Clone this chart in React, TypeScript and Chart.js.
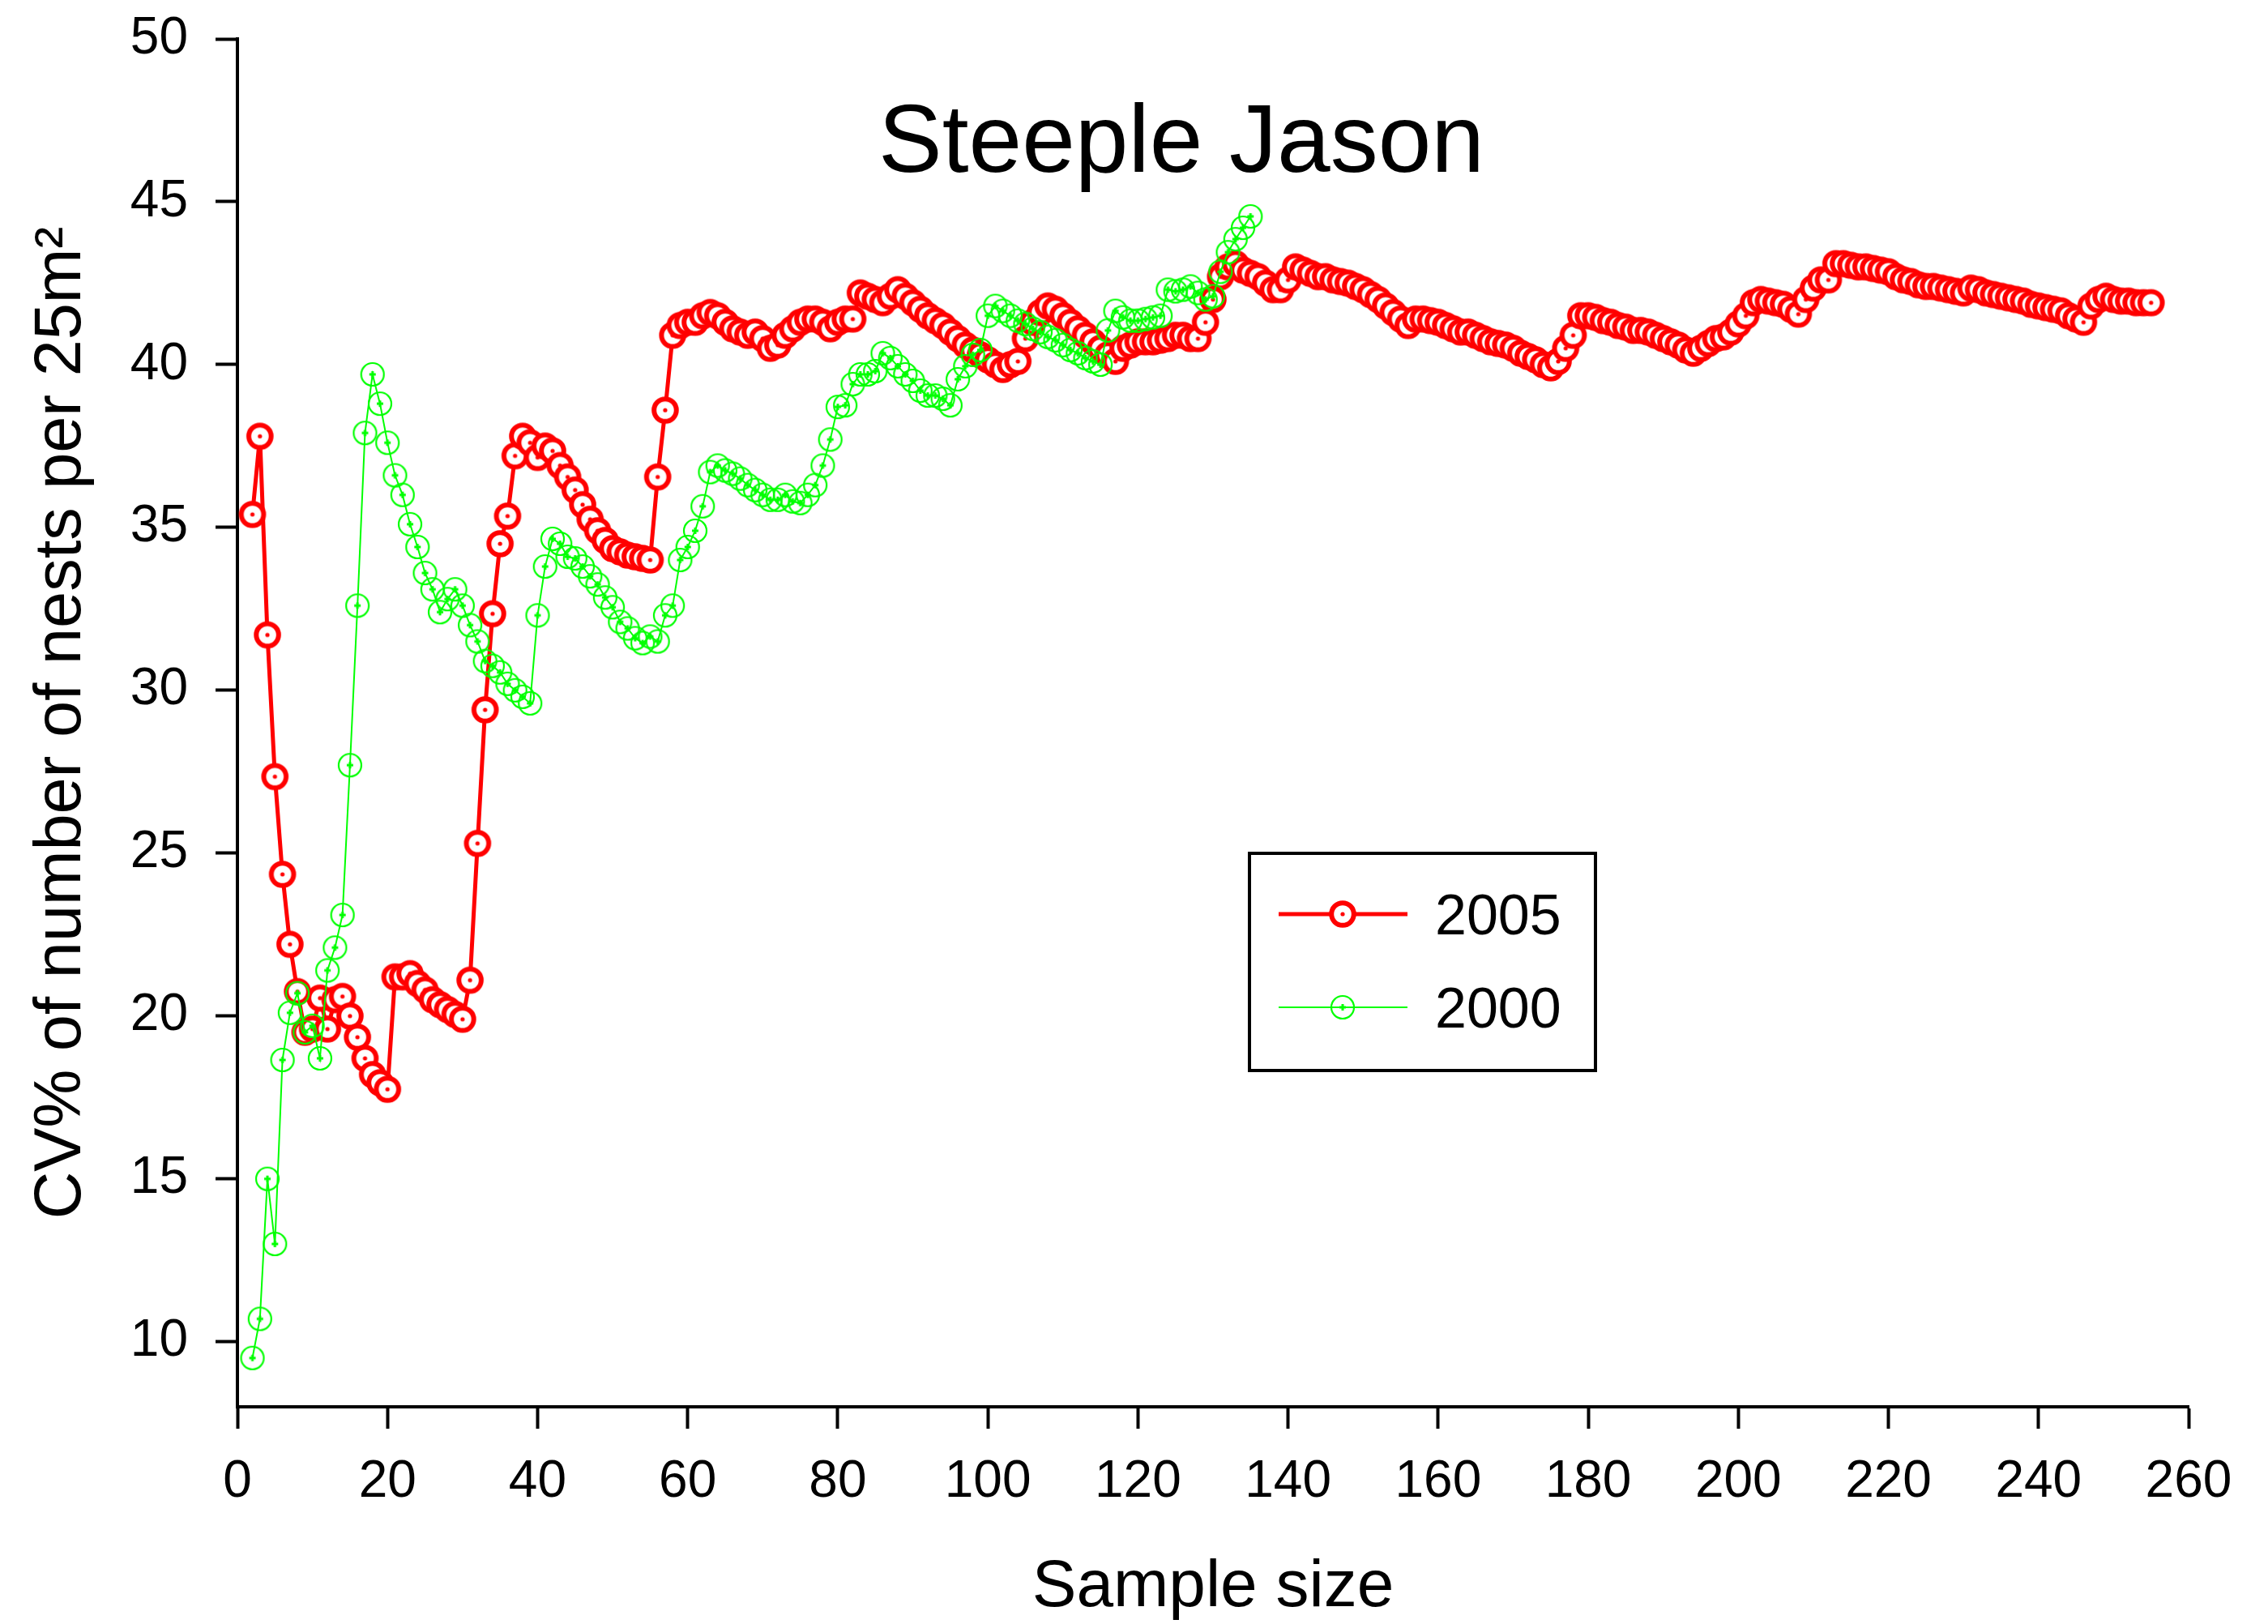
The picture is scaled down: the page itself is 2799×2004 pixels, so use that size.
import React, { useEffect, useRef } from 'react';
import { Chart, registerables } from 'chart.js';

Chart.register(...registerables);

const FONT = "'Liberation Sans', Arial, sans-serif";
const RED = '#ff0000';
const GREEN = '#00ff00';

const CHART_TITLE = 'Steeple Jason';
const X_TITLE = 'Sample size';
const Y_TITLE = 'CV% of number of nests per 25m\u00b2';
const SERIES_NAMES = ['2005', '2000'];

const X_TICKS = [0, 20, 40, 60, 80, 100, 120, 140, 160, 180, 200, 220, 240, 260];
const Y_TICKS = [10, 15, 20, 25, 30, 35, 40, 45, 50];

// first sample size of both series (points follow at every integer sample size)
const FIRST_SAMPLE_SIZE = 2;

// CV% 2005, sample size 2..255
const CV_2005 = [
  35.4, 37.8, 31.7, 27.35, 24.35, 22.2, 20.75, 19.5, 19.6, 20.55,
  19.6, 20.5, 20.6, 20.0, 19.35, 18.7, 18.2, 17.95, 17.75, 21.2,
  21.2, 21.3, 21.0, 20.8, 20.5, 20.35, 20.2, 20.05, 19.9, 21.1,
  25.3, 29.4, 32.35, 34.5, 35.35, 37.2, 37.8, 37.6, 37.15, 37.5,
  37.35, 36.9, 36.55, 36.15, 35.7, 35.25, 34.9, 34.6, 34.35, 34.25,
  34.15, 34.1, 34.05, 34.0, 36.55, 38.6, 40.9, 41.2, 41.3, 41.3,
  41.5, 41.6, 41.5, 41.3, 41.1, 41.0, 40.9, 41.0, 40.8, 40.5,
  40.6, 40.9, 41.1, 41.3, 41.4, 41.4, 41.3, 41.1, 41.3, 41.4,
  41.4, 42.2, 42.1, 42.0, 41.9, 42.1, 42.3, 42.1, 41.9, 41.7,
  41.5, 41.35, 41.2, 41.0, 40.8, 40.6, 40.45, 40.3, 40.15, 40.0,
  39.85, 40.0, 40.1, 40.8, 41.3, 41.6, 41.8, 41.7, 41.5, 41.3,
  41.1, 40.9, 40.7, 40.5, 40.3, 40.1, 40.5, 40.6, 40.7, 40.7,
  40.7, 40.75, 40.8, 40.9, 40.9, 40.8, 40.8, 41.3, 42.0, 42.7,
  43.0, 43.1, 42.9, 42.8, 42.7, 42.5, 42.3, 42.3, 42.6, 43.0,
  42.9, 42.8, 42.7, 42.7, 42.6, 42.55, 42.5, 42.4, 42.3, 42.15,
  42.0, 41.8, 41.6, 41.4, 41.2, 41.4, 41.4, 41.35, 41.3, 41.2,
  41.1, 41.0, 41.0, 40.9, 40.8, 40.7, 40.65, 40.6, 40.5, 40.35,
  40.25, 40.15, 40.0, 39.9, 40.1, 40.5, 40.9, 41.5, 41.5, 41.45,
  41.35, 41.3, 41.2, 41.15, 41.05, 41.05, 41.0, 40.9, 40.8, 40.7,
  40.6, 40.45, 40.35, 40.5, 40.65, 40.8, 40.85, 41.0, 41.25, 41.5,
  41.9, 42.0, 41.95, 41.9, 41.85, 41.7, 41.55, 42.0, 42.35, 42.6,
  42.6, 43.1, 43.1, 43.05, 43.0, 43.0, 42.95, 42.9, 42.85, 42.7,
  42.6, 42.55, 42.45, 42.4, 42.4, 42.35, 42.3, 42.25, 42.2, 42.35,
  42.3, 42.2, 42.15, 42.1, 42.05, 42.0, 41.95, 41.85, 41.8, 41.75,
  41.7, 41.65, 41.5, 41.4, 41.3, 41.8, 42.0, 42.1, 42.0, 41.95,
  41.95, 41.9, 41.9, 41.9,
];

// CV% 2000, sample size 2..135
const CV_2000 = [
  9.5, 10.7, 15.0, 13.0, 18.65, 20.1, 20.7, 19.5, 19.7, 18.7,
  21.4, 22.1, 23.1, 27.7, 32.6, 37.9, 39.7, 38.8, 37.6, 36.6,
  36.0, 35.1, 34.4, 33.6, 33.1, 32.4, 32.8, 33.1, 32.6, 32.0,
  31.5, 30.9, 30.75, 30.55, 30.2, 30.0, 29.8, 29.6, 32.3, 33.8,
  34.65, 34.5, 34.1, 34.05, 33.8, 33.5, 33.25, 32.85, 32.55, 32.1,
  31.9, 31.6, 31.45, 31.65, 31.5, 32.3, 32.6, 34.0, 34.4, 34.9,
  35.65, 36.7, 36.9, 36.75, 36.65, 36.5, 36.3, 36.15, 36.0, 35.85,
  35.85, 36.0, 35.8, 35.75, 36.0, 36.3, 36.9, 37.7, 38.7, 38.75,
  39.4, 39.7, 39.7, 39.8, 40.35, 40.2, 39.95, 39.7, 39.5, 39.2,
  39.05, 39.05, 38.95, 38.75, 39.55, 39.95, 40.3, 40.45, 41.5, 41.8,
  41.65, 41.5, 41.35, 41.25, 41.1, 41.0, 40.85, 40.75, 40.6, 40.45,
  40.35, 40.2, 40.1, 40.0, 41.05, 41.65, 41.45, 41.35, 41.35, 41.4,
  41.45, 41.5, 42.3, 42.25, 42.3, 42.4, 42.2, 42.0, 42.1, 42.85,
  43.45, 43.85, 44.2, 44.55,
];

const toPoints = (vals: number[]) =>
  vals.map((v, i) => ({ x: FIRST_SAMPLE_SIZE + i, y: v }));

function makeRedMarker(): HTMLCanvasElement {
  const c = document.createElement('canvas');
  c.width = 38;
  c.height = 38;
  const g = c.getContext('2d')!;
  g.beginPath();
  g.arc(19, 19, 13.8, 0, Math.PI * 2);
  g.fillStyle = '#ffffff';
  g.fill();
  g.lineWidth = 6;
  g.strokeStyle = RED;
  g.stroke();
  g.beginPath();
  g.arc(19, 19, 2.6, 0, Math.PI * 2);
  g.fillStyle = RED;
  g.fill();
  return c;
}

function makeGreenMarker(): HTMLCanvasElement {
  const c = document.createElement('canvas');
  c.width = 34;
  c.height = 34;
  const g = c.getContext('2d')!;
  g.beginPath();
  g.arc(17, 17, 14, 0, Math.PI * 2);
  g.lineWidth = 2.2;
  g.strokeStyle = GREEN;
  g.stroke();
  g.fillStyle = GREEN;
  g.fillRect(13, 15.5, 8, 3);
  g.fillRect(15.5, 13, 3, 8);
  return c;
}

export default function App() {
  const ref = useRef<HTMLCanvasElement | null>(null);

  useEffect(() => {
    if (!ref.current) return;
    const redMarker = makeRedMarker();
    const greenMarker = makeGreenMarker();

    const overlay = {
      id: 'overlay',
      afterDraw(chart: any) {
        const ctx = chart.ctx;
        ctx.save();
        // title
        ctx.fillStyle = '#000';
        ctx.font = `118px ${FONT}`;
        ctx.textAlign = 'center';
        ctx.textBaseline = 'alphabetic';
        ctx.fillText(CHART_TITLE, 1458, 212);

        // legend box
        ctx.lineWidth = 4;
        ctx.strokeStyle = '#000';
        ctx.strokeRect(1542, 1053, 427, 268);

        const rows = [
          { name: SERIES_NAMES[0], color: RED, width: 5, marker: redMarker, y: 1128 },
          { name: SERIES_NAMES[1], color: GREEN, width: 2, marker: greenMarker, y: 1243 },
        ];
        for (const r of rows) {
          ctx.beginPath();
          ctx.strokeStyle = r.color;
          ctx.lineWidth = r.width;
          ctx.moveTo(1578, r.y);
          ctx.lineTo(1737, r.y);
          ctx.stroke();
          ctx.drawImage(r.marker, 1657 - r.marker.width / 2, r.y - r.marker.height / 2);
          ctx.fillStyle = '#000';
          ctx.font = `70px ${FONT}`;
          ctx.textAlign = 'left';
          ctx.textBaseline = 'alphabetic';
          ctx.fillText(r.name, 1771, r.y + 25);
        }
        ctx.restore();
      },
    };

    const chart = new Chart(ref.current, {
      type: 'line',
      data: {
        datasets: [
          {
            label: SERIES_NAMES[1],
            data: toPoints(CV_2000),
            borderColor: GREEN,
            borderWidth: 2,
            pointStyle: greenMarker as any,
            pointRadius: 14,
            fill: false,
            tension: 0,
          },
          {
            label: SERIES_NAMES[0],
            data: toPoints(CV_2005),
            borderColor: RED,
            borderWidth: 5,
            pointStyle: redMarker as any,
            pointRadius: 14,
            fill: false,
            tension: 0,
          },
        ],
      },
      options: {
        animation: false,
        responsive: true,
        maintainAspectRatio: false,
        layout: { padding: { top: 48, right: 98, bottom: 0, left: 0 } },
        plugins: {
          legend: { display: false },
          tooltip: { enabled: false },
          title: { display: false },
        },
        scales: {
          x: {
            type: 'linear',
            min: 0,
            max: 260,
            afterBuildTicks: (s: any) => {
              s.ticks = X_TICKS.map((v) => ({ value: v }));
            },
            afterFit: (s: any) => {
              s.height = 268;
            },
            grid: {
              drawOnChartArea: false,
              drawTicks: true,
              tickLength: 27,
              tickWidth: 4,
              tickColor: '#000',
            },
            border: { display: true, color: '#000', width: 4 },
            ticks: {
              color: '#000',
              font: { family: FONT, size: 64 },
              padding: 28,
              maxRotation: 0,
              autoSkip: false,
            },
            title: {
              display: true,
              text: X_TITLE,
              color: '#000',
              font: { family: FONT, size: 82, lineHeight: 1.1 },
              padding: { top: 0, bottom: 0 },
            },
          },
          y: {
            type: 'linear',
            min: 8,
            max: 50,
            afterBuildTicks: (s: any) => {
              s.ticks = Y_TICKS.map((v) => ({ value: v }));
            },
            afterFit: (s: any) => {
              s.width = 293;
              s.paddingTop = 0;
              s.paddingBottom = 0;
            },
            grid: {
              drawOnChartArea: false,
              drawTicks: true,
              tickLength: 27,
              tickWidth: 4,
              tickColor: '#000',
            },
            border: { display: true, color: '#000', width: 4 },
            ticks: {
              color: '#000',
              font: { family: FONT, size: 64 },
              padding: 34,
            },
            title: {
              display: true,
              text: Y_TITLE,
              color: '#000',
              font: { family: FONT, size: 81 },
              padding: { top: 28, bottom: 0 },
            },
          },
        },
      } as any,
      plugins: [overlay],
    });

    return () => chart.destroy();
  }, []);

  return (
    <div
      style={{
        position: 'fixed',
        left: 0,
        top: 0,
        width: 2799,
        height: 2004,
        background: '#fff',
      }}
    >
      <canvas ref={ref} />
    </div>
  );
}
